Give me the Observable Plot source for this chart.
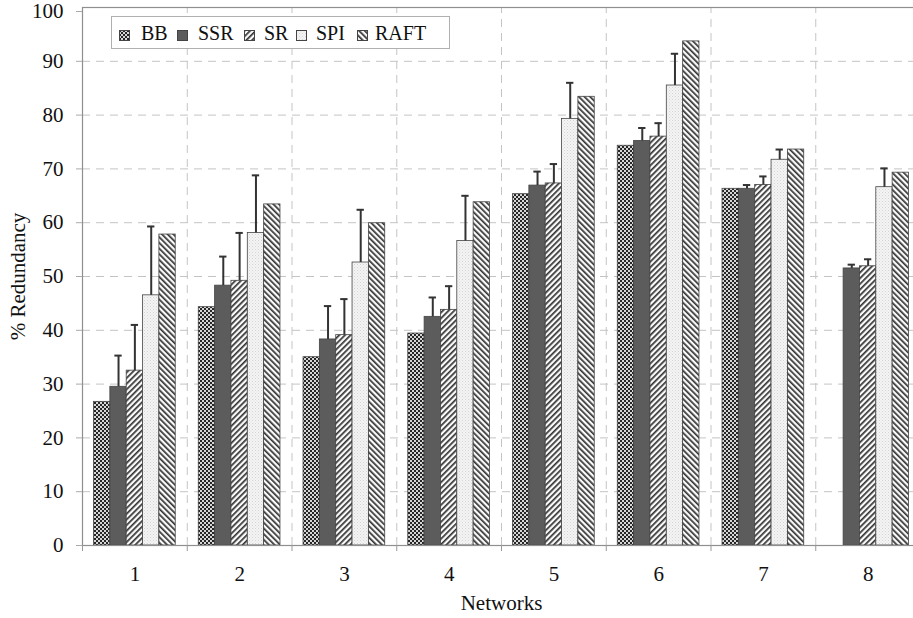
<!DOCTYPE html>
<html><head><meta charset="utf-8">
<script src="https://cdn.jsdelivr.net/npm/d3@7"></script>
<script src="https://cdn.jsdelivr.net/npm/@observablehq/plot@0.6"></script>
<style>
body{margin:0;background:#fff;}
#wrap{position:relative;width:913px;height:618px;overflow:hidden;font-family:"Liberation Serif","Times New Roman",serif;}
#legend{position:absolute;left:111px;top:16px;width:337px;height:31px;border:1px solid #b0b0b0;background:#fff;}
.sw{position:absolute;top:13px;width:11px;height:11px;}
.lt{position:absolute;top:4px;font-size:20px;line-height:24px;color:#111;white-space:nowrap;}
</style></head><body>
<svg width="0" height="0" style="position:absolute">
<defs>
<pattern id="pBB" width="4" height="4" patternUnits="userSpaceOnUse"><rect width="4" height="4" fill="#d6d6d6"/><rect width="2" height="2" fill="#262626"/><rect x="2" y="2" width="2" height="2" fill="#262626"/></pattern>
<pattern id="pSSR" width="4" height="4" patternUnits="userSpaceOnUse"><rect width="4" height="4" fill="#5c5c5c"/></pattern>
<pattern id="pSR" width="4" height="4" patternUnits="userSpaceOnUse" patternTransform="rotate(45)"><rect width="4" height="4" fill="#fafafa"/><rect width="1.7" height="4" fill="#333"/></pattern>
<pattern id="pSPI" width="3" height="3" patternUnits="userSpaceOnUse"><rect width="3" height="3" fill="#f4f4f4"/><rect width="1" height="1" fill="#d4d4d4"/><rect x="1.5" y="1.5" width="1" height="1" fill="#dedede"/></pattern>
<pattern id="pRAFT" width="4" height="4" patternUnits="userSpaceOnUse" patternTransform="rotate(-45)"><rect width="4" height="4" fill="#fafafa"/><rect width="1.7" height="4" fill="#333"/></pattern>
</defs>
</svg>
<div id="wrap"></div>
<script>
// ---- data ----
const networks = [1, 2, 3, 4, 5, 6, 7, 8];
const seriesNames = ["BB", "SSR", "SR", "SPI", "RAFT"];
const BB   = [26.7, 44.3, 35.0, 39.4, 65.3, 74.3, 66.3, null];
const SSR  = [29.5, 48.3, 38.3, 42.5, 66.9, 75.2, 66.3, 51.5];
const SR   = [32.5, 49.2, 39.1, 43.8, 67.3, 76.0, 67.0, 51.9];
const SPI  = [46.5, 58.1, 52.6, 56.6, 79.3, 85.5, 71.7, 66.6];
const RAFT = [57.8, 63.4, 59.9, 63.8, 83.4, 93.7, 73.6, 69.3];
// upper ends of error bars
const SSR_errTop = [35.3, 53.7, 44.5, 46.1, 69.5, 77.6, 67.0, 52.2];
const SR_errTop  = [41.0, 58.1, 45.8, 48.2, 70.9, 78.5, 68.6, 53.2];
const SPI_errTop = [59.3, 68.8, 62.4, 65.0, 86.0, 91.4, 73.6, 70.1];
const yTicks = [0, 10, 20, 30, 40, 50, 60, 70, 80, 90, 100];

const valuesBy = {BB, SSR, SR, SPI, RAFT};
const errBy = {SSR: SSR_errTop, SR: SR_errTop, SPI: SPI_errTop};

const groupW = 0.78, barW = groupW / seriesNames.length;
const rows = [];
seriesNames.forEach((s, i) => {
  networks.forEach((n, j) => {
    const v = valuesBy[s][j];
    if (v == null) return;
    const x1 = n - groupW / 2 + i * barW;
    rows.push({series: s, network: n, value: v, x1, x2: x1 + barW, xc: x1 + barW / 2,
               err: errBy[s] ? errBy[s][j] : null});
  });
});
const errRows = rows.filter(d => d.err != null);
const boundaries = d3.range(0.5, 8.6, 1);
const innerBounds = boundaries.slice(1, -1);
const gridY = yTicks.slice(1, -1);

const FS = 21;
const marks = [
  Plot.ruleY(gridY, {stroke: "#c4c4c4", strokeDasharray: "8,6", strokeWidth: 1}),
  Plot.ruleX(innerBounds, {y1: 0, y2: 100, stroke: "#c4c4c4", strokeDasharray: "8,6", strokeWidth: 1}),
];
seriesNames.forEach(s => {
  marks.push(Plot.rectY(rows.filter(d => d.series === s), {
    x1: "x1", x2: "x2", y1: 0, y2: "value",
    fill: `url(#p${s})`, stroke: "#444", strokeWidth: 0.8
  }));
});
marks.push(
  Plot.ruleX(errRows, {x: "xc", y1: "value", y2: "err", stroke: "#333", strokeWidth: 2}),
  Plot.ruleY(errRows, {x1: d => d.xc - 0.035, x2: d => d.xc + 0.035, y: "err", stroke: "#333", strokeWidth: 2}),
  Plot.frame({stroke: "#8f8f8f", strokeWidth: 1.2}),
  Plot.axisY({ticks: yTicks.slice(0, -1), tickSize: 6, tickPadding: 13, fontSize: FS, stroke: "#aaa",
              label: "% Redundancy", labelAnchor: "center", labelOffset: 72, labelArrow: "none"}),
  Plot.axisY({ticks: yTicks.slice(-1), tickSize: 6, tickPadding: 13, fontSize: FS, stroke: "#aaa",
              dy: 4, label: null}),
  Plot.axisX({ticks: boundaries, tickSize: 6, tickFormat: () => "", stroke: "#999", label: null}),
  Plot.axisX({ticks: networks, tickSize: 0, tickPadding: 21, fontSize: FS,
              label: "Networks", labelAnchor: "center", labelOffset: 64, labelArrow: "none"})
);

const chart = Plot.plot({
  width: 913, height: 618,
  marginLeft: 82, marginRight: -7, marginTop: 7, marginBottom: 73,
  x: {type: "linear", domain: [0.5, 8.5]},
  y: {domain: [0, 100]},
  style: {fontFamily: "'Liberation Serif', 'Times New Roman', serif", fontSize: FS + "px", color: "#111", background: "#fff", overflow: "visible"},
  marks
});
const wrap = document.getElementById("wrap");
wrap.appendChild(chart);

// legend (inside plot area, top-left)
const legend = document.createElement("div");
legend.id = "legend";
const swLeft = [7, 65, 132, 184, 245];
const txLeft = [29, 86, 152, 204, 263];
seriesNames.forEach((s, i) => {
  const sw = document.createElementNS("http://www.w3.org/2000/svg", "svg");
  sw.setAttribute("class", "sw"); sw.setAttribute("width", 11); sw.setAttribute("height", 11);
  sw.style.left = swLeft[i] + "px";
  sw.innerHTML = `<rect x="0.5" y="0.5" width="10" height="10" fill="url(#p${s})" stroke="#444" stroke-width="1"/>`;
  legend.appendChild(sw);
  const t = document.createElement("div");
  t.className = "lt"; t.style.left = txLeft[i] + "px"; t.textContent = s;
  legend.appendChild(t);
});
wrap.appendChild(legend);
</script>
</body></html>
